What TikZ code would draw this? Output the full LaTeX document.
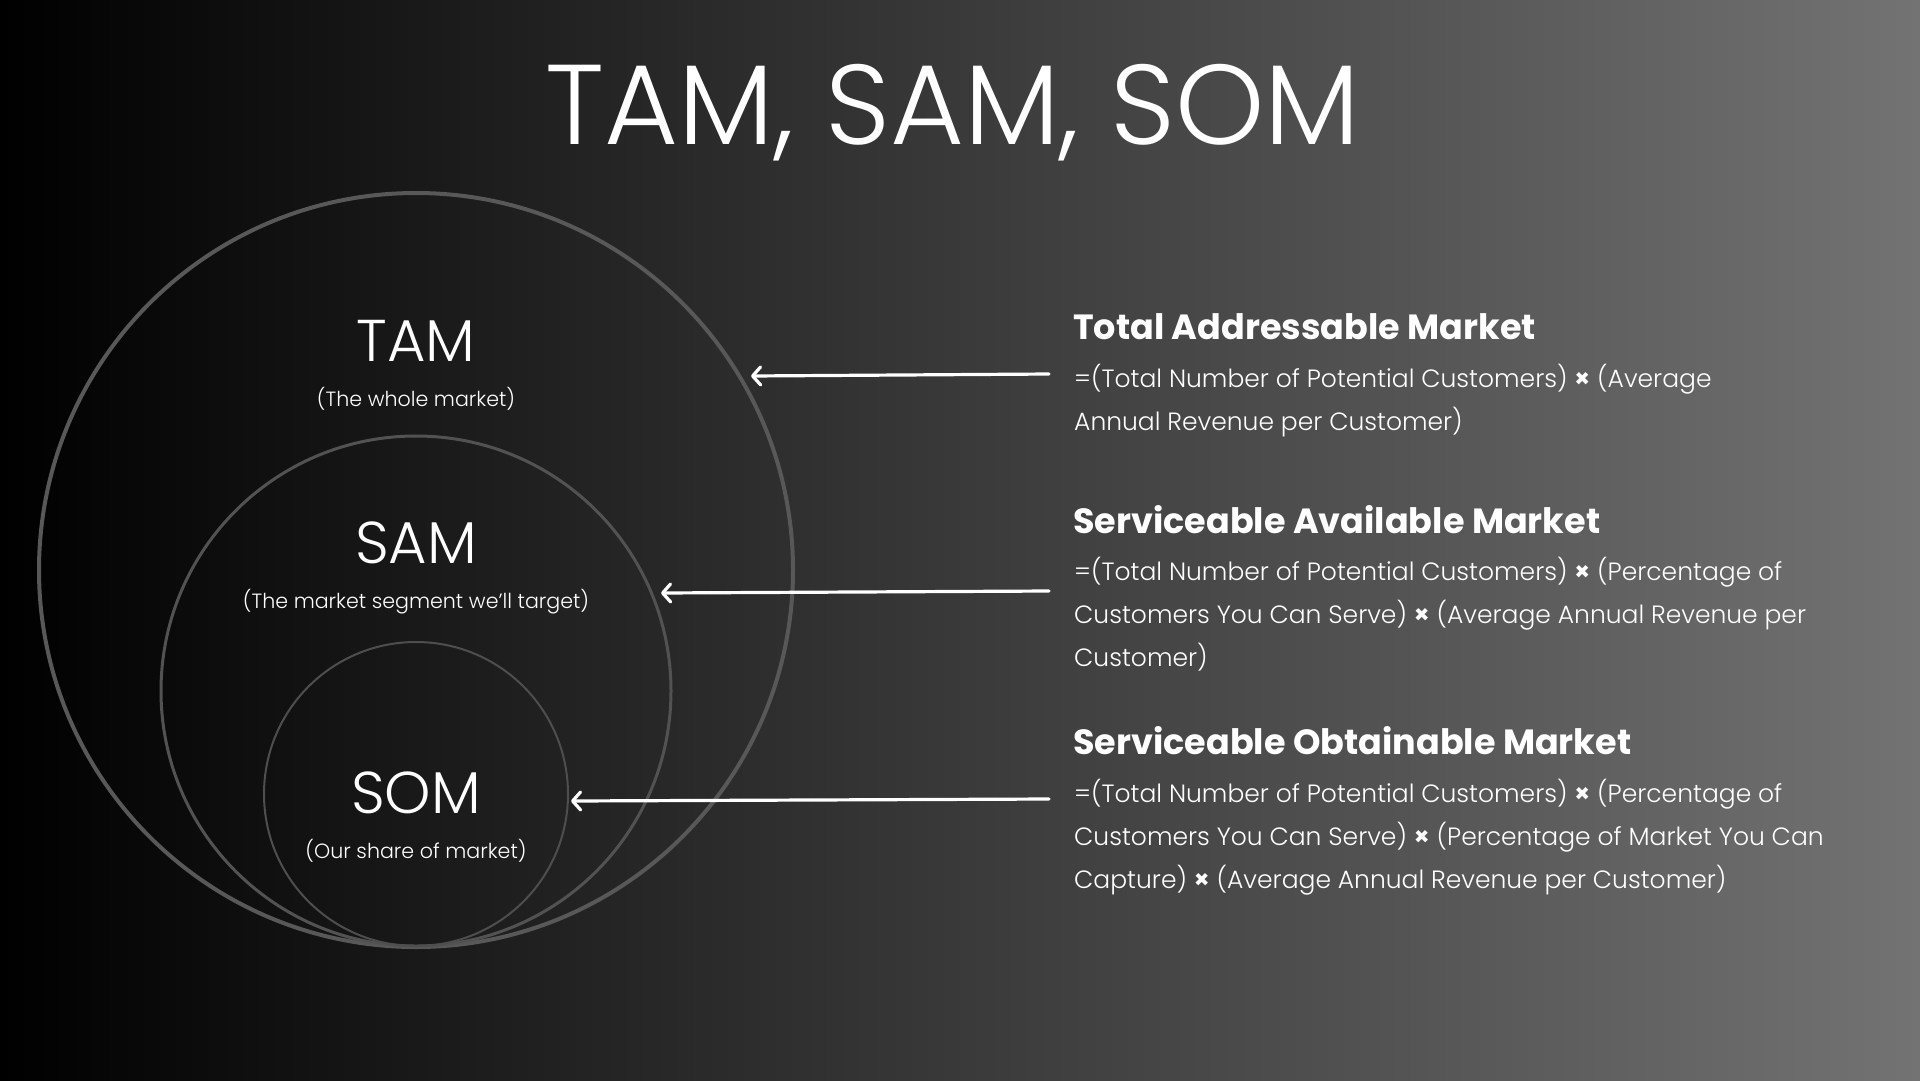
\documentclass[tikz,border=0pt]{standalone}
\usepackage{fontspec}
\setmainfont{Poppins}
\newfontfamily\lightfont{Poppins Light}
\newcommand\mulsign{{\normalfont\bfseries ×}}
\usetikzlibrary{arrows.meta}
\definecolor{bgR}{RGB}{115,115,115}
\definecolor{ringA}{RGB}{88,88,88}
\definecolor{ringB}{RGB}{82,82,82}
\definecolor{ringC}{RGB}{78,78,78}
\tikzset{
  ring/.style={circle, inner sep=0pt, outer sep=0pt, draw},
  biglabel/.style={text=white, inner sep=0pt, anchor=base, font=\lightfont\fontsize{59}{59}\selectfont},
  sublabel/.style={text=white, inner sep=0pt, anchor=base, font=\lightfont\fontsize{20.6}{20.6}\selectfont},
  headtxt/.style={text=white, inner sep=0pt, anchor=base west, font=\bfseries\fontsize{35}{35}\selectfont},
  bodytxt/.style={text=white, inner sep=0pt, anchor=base west, font=\lightfont\fontsize{25}{25}\selectfont},
  pointer/.style={draw=white, line width=3.2pt, line cap=round, -{Straight Barb[length=8pt,width=18pt,line cap=round,line join=round]}}
}
\begin{document}
\begin{tikzpicture}[x=1pt,y=-1pt]
\useasboundingbox (0,0) rectangle (1920,1080);
\shade[left color=black, right color=bgR] (0,0) rectangle (1920,1080);
% title
\node[text=white, inner sep=0pt, anchor=base, font=\lightfont\fontsize{113.5}{113.5}\selectfont] (title) at (953,144) {TAM, SAM, SOM};
% circles
\node[ring, draw=ringA, line width=4pt, minimum size=754pt] (tamc) at (416,570) {};
\node[ring, draw=ringB, line width=3pt, minimum size=510pt] (samc) at (416,691) {};
\node[ring, draw=ringC, line width=2pt, minimum size=304pt] (somc) at (416,794) {};
% circle labels
\node[biglabel] (tam) at (416,361) {TAM};
\node[sublabel] (tams) at (416,406) {(The whole market)};
\node[biglabel] (sam) at (416,563) {SAM};
\node[sublabel] (sams) at (416,608) {(The market segment we’ll target)};
\node[biglabel] (som) at (416,813) {SOM};
\node[sublabel] (soms) at (416,858) {(Our share of market)};
% arrows
\coordinate (a1s) at (1049,374); \coordinate (a1e) at (751,376);
\coordinate (a2s) at (1049,591); \coordinate (a2e) at (661,593);
\coordinate (a3s) at (1049,799); \coordinate (a3e) at (571,801);
\draw[pointer] (a1s) -- (a1e);
\draw[pointer] (a2s) -- (a2e);
\draw[pointer] (a3s) -- (a3e);
% right texts
\node[headtxt] (h1) at (1073,339) {Total Addressable Market};
\node[bodytxt] (b1a) at (1074,387) {=(Total Number of Potential Customers) \mulsign{} (Average};
\node[bodytxt] (b1b) at (1074,430) {Annual Revenue per Customer)};
\node[headtxt] (h2) at (1073,533) {Serviceable Available Market};
\node[bodytxt] (b2a) at (1074,580) {=(Total Number of Potential Customers) \mulsign{} (Percentage of};
\node[bodytxt] (b2b) at (1074,623) {Customers You Can Serve) \mulsign{} (Average Annual Revenue per};
\node[bodytxt] (b2c) at (1074,666) {Customer)};
\node[headtxt] (h3) at (1073,754) {Serviceable Obtainable Market};
\node[bodytxt] (b3a) at (1074,802) {=(Total Number of Potential Customers) \mulsign{} (Percentage of};
\node[bodytxt] (b3b) at (1074,845) {Customers You Can Serve) \mulsign{} (Percentage of Market You Can};
\node[bodytxt] (b3c) at (1074,888) {Capture) \mulsign{} (Average Annual Revenue per Customer)};
\end{tikzpicture}
\end{document}
